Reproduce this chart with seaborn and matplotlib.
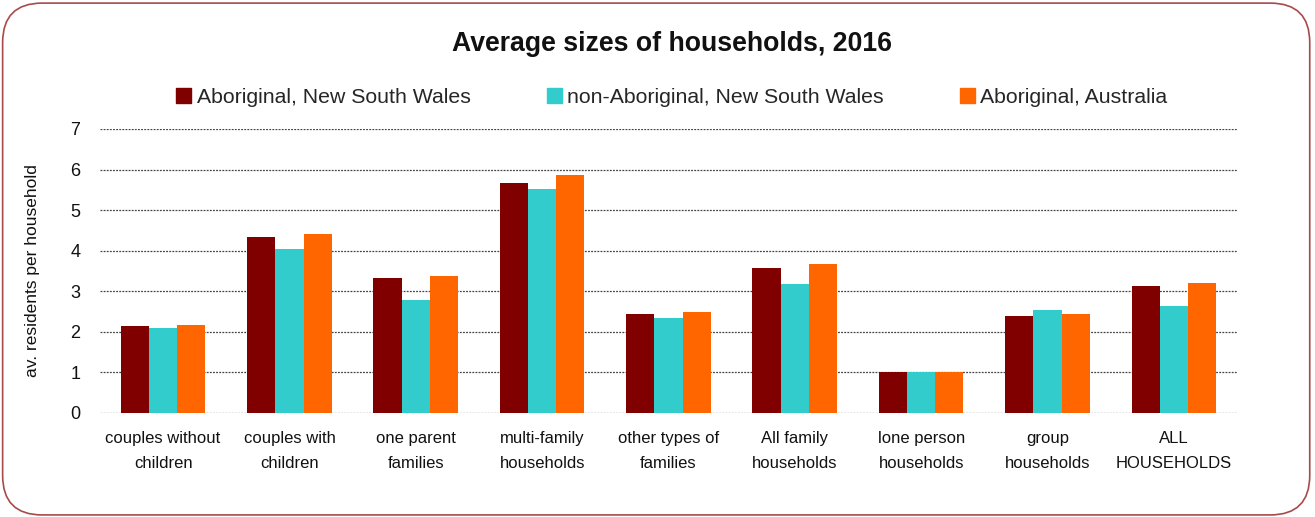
import matplotlib
matplotlib.use("Agg")
import matplotlib.pyplot as plt
from matplotlib.patches import FancyBboxPatch
import pandas as pd
import seaborn as sns

categories = [
    "couples without\nchildren",
    "couples with\nchildren",
    "one parent\nfamilies",
    "multi-family\nhouseholds",
    "other types of\nfamilies",
    "All family\nhouseholds",
    "lone person\nhouseholds",
    "group\nhouseholds",
    "ALL\nHOUSEHOLDS",
]
series_names = [
    "Aboriginal, New South Wales",
    "non-Aboriginal, New South Wales",
    "Aboriginal, Australia",
]
aboriginal_nsw = [2.14, 4.34, 3.33, 5.67, 2.45, 3.58, 1.00, 2.39, 3.14]
non_aboriginal_nsw = [2.09, 4.03, 2.79, 5.53, 2.35, 3.19, 1.00, 2.55, 2.63]
aboriginal_aus = [2.16, 4.40, 3.38, 5.86, 2.50, 3.66, 1.00, 2.44, 3.20]
colors = ["#800000", "#33CCCC", "#FF6600"]
y_ticks = [0, 1, 2, 3, 4, 5, 6, 7]

rows = []
for name, vals in zip(series_names, [aboriginal_nsw, non_aboriginal_nsw, aboriginal_aus]):
    for cat, v in zip(categories, vals):
        rows.append({"category": cat, "series": name, "value": v})
df = pd.DataFrame(rows)

sns.set_theme(style="white")
plt.rcParams["font.family"] = ["Liberation Sans", "DejaVu Sans"]

fig = plt.figure(figsize=(13.15, 5.17), dpi=100)
ax = fig.add_axes([0.076, 0.2012, 0.8647, 0.5494])

sns.barplot(data=df, x="category", y="value", hue="series",
            order=categories, hue_order=series_names,
            palette=colors, width=0.67, saturation=1,
            edgecolor="none", ax=ax, legend=False)

ax.set_ylim(0, 7)
ax.set_yticks(y_ticks)
ax.set_xlim(-0.5, len(categories) - 0.5)
ax.yaxis.grid(True, linestyle=(0, (1.5, 1)), color="#444444", linewidth=0.9)
ax.set_axisbelow(True)
for s in ax.spines.values():
    s.set_visible(False)
ax.tick_params(axis="both", length=0, colors="#111111")
ax.tick_params(axis="x", pad=13, labelsize=12)
ax.tick_params(axis="y", pad=14, labelsize=13)
for lab in ax.get_xticklabels():
    lab.set_linespacing(1.8)
ax.set_xlabel("")
ax.set_ylabel("av. residents per household", fontsize=12.5, color="#111111", labelpad=22)

handles = [plt.Rectangle((0, 0), 1, 1, color=c) for c in colors]
fig.legend(handles, series_names, loc="center", bbox_to_anchor=(0.511, 0.812),
           ncol=3, frameon=False, fontsize=15.3, handlelength=0.7, handleheight=0.7,
           handletextpad=0.25, columnspacing=3.6)

fig.text(0.511, 0.915, "Average sizes of households, 2016", ha="center", va="center",
         fontsize=19.2, fontweight="bold", color="#111111")

border = FancyBboxPatch((0.002, 0.004), 0.994, 0.99, boxstyle="round,pad=0,rounding_size=0.03",
                        transform=fig.transFigure, fill=False, edgecolor="#A84A4A",
                        linewidth=1.2, mutation_aspect=1315 / 517)
fig.patches.append(border)

fig.savefig("out.png", dpi=100)
